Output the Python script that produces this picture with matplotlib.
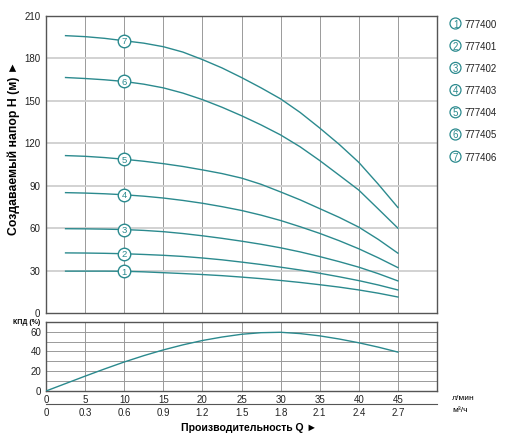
import matplotlib
matplotlib.use("Agg")
import matplotlib.pyplot as plt
from matplotlib.patches import Ellipse

plt.rcParams['font.family'] = ['Liberation Sans', 'DejaVu Sans']

# ---- data ----
Q = [2.5, 5, 7.5, 10, 12.5, 15, 17.5, 20, 22.5, 25, 27.5, 30, 32.5, 35, 37.5, 40, 42.5, 45]
H1 = [29.6, 29.6, 29.6, 29.5, 29.1, 28.5, 27.9, 27.2, 26.4, 25.4, 24.3, 23.0, 21.6, 20.0, 18.3, 16.3, 14.0, 11.3]
H2 = [42.5, 42.4, 42.2, 41.9, 41.4, 40.8, 40.0, 38.9, 37.6, 36.0, 34.3, 32.4, 30.4, 28.1, 25.6, 22.9, 19.8, 16.3]
H3 = [59.6, 59.5, 59.3, 59.0, 58.4, 57.5, 56.2, 54.6, 52.8, 50.8, 48.6, 46.1, 43.2, 39.9, 36.3, 32.4, 27.8, 22.7]
H4 = [85.1, 84.8, 84.3, 83.6, 82.6, 81.3, 79.6, 77.6, 75.2, 72.5, 69.2, 65.4, 61.0, 56.3, 51.1, 45.4, 39.0, 32.1]
H5 = [111.3, 110.8, 109.9, 108.7, 107.3, 105.6, 103.6, 101.2, 98.6, 95.4, 91.0, 85.6, 80.0, 73.8, 67.6, 60.7, 52.0, 42.3]
H6 = [166.5, 165.8, 164.9, 163.7, 161.8, 159.2, 155.5, 150.9, 145.5, 139.5, 133.0, 125.9, 117.5, 107.8, 97.4, 86.9, 73.5, 60.0]
H7 = [196.1, 195.4, 194.2, 192.5, 190.8, 188.3, 184.5, 179.2, 173.3, 166.5, 159.2, 151.4, 141.8, 130.8, 119.2, 106.5, 91.0, 74.6]
curves = [H1, H2, H3, H4, H5, H6, H7]
labels = ['1', '2', '3', '4', '5', '6', '7']
models = ['777400', '777401', '777402', '777403', '777404', '777405', '777406']
marker_q = 10

QE = [0, 2.5, 5, 7.5, 10, 12.5, 15, 17.5, 20, 22.5, 25, 27.5, 30, 32.5, 35, 37.5, 40, 42.5, 45]
EFF = [0, 7.5, 15, 22.3, 29.3, 35.7, 41.5, 46.6, 51, 54.5, 57.3, 58.9, 59.3, 58, 55.7, 52.5, 48.7, 44.3, 39.3]

q_ticks = [0, 5, 10, 15, 20, 25, 30, 35, 40, 45]
m3_labels = ['0', '0.3', '0.6', '0.9', '1.2', '1.5', '1.8', '2.1', '2.4', '2.7']

TEAL = '#2b8a8e'
GRID_V = '#9a9a9a'
GRID_H = '#cfcfcf'
FRAME = '#555555'
TXT = '#222222'

fig = plt.figure(figsize=(5.12, 4.41), dpi=100)
ax = fig.add_axes([46/512, 1-313/441, (437-46)/512, (313-16)/441])
axe = fig.add_axes([46/512, 1-391/441, (437-46)/512, (391-321.7)/441])

# main axes
ax.set_xlim(0, 50)
ax.set_ylim(0, 210)
ax.set_yticks(range(0, 211, 30))
ax.set_xticks(q_ticks)
ax.tick_params(axis='x', labelbottom=False, length=0)
ax.tick_params(axis='y', length=0, labelsize=7, pad=4, colors=TXT)
for x in range(5, 50, 5):
    ax.axvline(x, color=GRID_V, lw=0.7, zorder=1)
for y in range(30, 210, 30):
    ax.axhline(y, color=GRID_H, lw=1.3, zorder=1)
for s in ax.spines.values():
    s.set_color(FRAME)
    s.set_linewidth(1.0)

for H, lab in zip(curves, labels):
    ax.plot(Q, H, color=TEAL, lw=1.0, zorder=3)
    hm = H[Q.index(marker_q)]
    ax.plot([marker_q], [hm], marker='o', ms=9, mfc='white', mec=TEAL, mew=1.0, zorder=4)
    ax.text(marker_q, hm, lab, color=TEAL, fontsize=6.8, ha='center', va='center_baseline', zorder=5)

ax.set_ylabel('Создаваемый напор Н (м) ►', fontsize=8.8, fontweight='bold')
ax.yaxis.set_label_coords(-0.066, 0.554)

# legend at right
for i, (lab, mod) in enumerate(zip(labels, models)):
    yy = 1 - (23.5 + i * 22.2) / 441
    fig.patches.append(Ellipse((455.5/512, yy), 11/512, 11/441,
                               transform=fig.transFigure, fc='white', ec=TEAL, lw=0.9))
    fig.text(455.5/512, yy, lab, color=TEAL, fontsize=7, ha='center', va='center_baseline')
    fig.text(464/512, yy, mod, color=TXT, fontsize=7, ha='left', va='center_baseline')

# efficiency axes
axe.set_xlim(0, 50)
axe.set_ylim(0, 70)
axe.set_yticks([0, 20, 40, 60])
axe.set_xticks(q_ticks)
axe.tick_params(axis='both', length=0, labelsize=7, colors=TXT)
axe.tick_params(axis='x', pad=3)
for x in range(5, 50, 5):
    axe.axvline(x, color=GRID_V, lw=0.7, zorder=1)
for y in range(10, 70, 10):
    axe.axhline(y, color=GRID_V, lw=0.7, zorder=1)
for s in axe.spines.values():
    s.set_color(FRAME)
    s.set_linewidth(1.0)
axe.plot(QE, EFF, color=TEAL, lw=1.0, zorder=3)

fig.text(27/512, 1-322/441, 'КПД (%)', fontsize=5, fontweight='bold', ha='center', va='center')

sec = axe.secondary_xaxis(-13/69)
sec.set_xticks(q_ticks)
sec.set_xticklabels(m3_labels)
sec.tick_params(axis='x', length=0, labelsize=7, colors=TXT, pad=3)
sec.spines['bottom'].set_color(FRAME)
sec.spines['bottom'].set_linewidth(0.8)

fig.text(452/512, 1-399/441, 'л/мин', fontsize=6, ha='left', va='center')
fig.text(452/512, 1-411/441, 'м³/ч', fontsize=6, ha='left', va='center')
fig.text(249/512, 1-428/441, 'Производительность Q ►', fontsize=7.6, fontweight='bold',
         ha='center', va='center')

fig.savefig('out.png', dpi=100)
